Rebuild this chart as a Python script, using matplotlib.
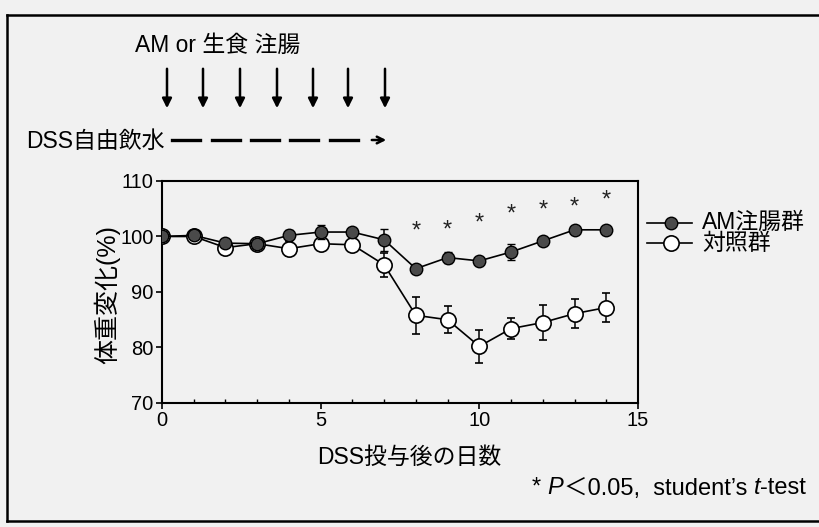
import matplotlib
matplotlib.use("Agg")
import matplotlib.pyplot as plt
from matplotlib.lines import Line2D
from matplotlib.ticker import MultipleLocator
from matplotlib.offsetbox import TextArea, HPacker, AnchoredOffsetbox
import numpy as np

plt.rcParams['font.family'] = ['Liberation Sans', 'Noto Sans CJK JP', 'DejaVu Sans']

# data
days = np.arange(0, 15)
am_mean = [100.0, 100.2, 98.8, 98.7, 100.2, 100.8, 100.8, 99.4, 94.2, 96.2, 95.6, 97.2, 99.2, 101.2, 101.2]
am_err = [0.3, 0.5, 0.5, 0.4, 0.9, 1.2, 0.6, 2.0, 0.6, 1.0, 0.5, 1.4, 0.7, 0.5, 0.4]
ctl_mean = [100.0, 100.0, 98.0, 98.7, 97.8, 98.7, 98.5, 94.9, 85.8, 85.0, 80.2, 83.4, 84.5, 86.1, 87.2]
ctl_err = [0.3, 0.4, 0.5, 0.3, 1.3, 1.0, 0.6, 2.2, 3.3, 2.4, 3.0, 1.9, 3.1, 2.6, 2.6]
star_days = [8, 9, 10, 11, 12, 13, 14]
star_y = [100.9, 101.0, 102.4, 103.9, 104.6, 105.2, 106.4]

lbl_am = "AM注腸群"
lbl_ctl = "対照群"

bg = '#f1f1f1'
fig = plt.figure(figsize=(8.19, 5.27), dpi=100)
fig.patch.set_facecolor(bg)
ax = fig.add_axes([0.1978, 0.2353, 0.5812, 0.4213])
ax.set_facecolor(bg)

am_style = dict(marker='o', ms=9, mfc='#4a4a4a', mec='black', mew=1.0)
ctl_style = dict(marker='o', ms=11, mfc='white', mec='black', mew=1.2)

ax.errorbar(days, ctl_mean, yerr=ctl_err, color='black', lw=1.2, capsize=3,
            elinewidth=1.1, zorder=3, **ctl_style)
ax.errorbar(days, am_mean, yerr=am_err, color='black', lw=1.2, capsize=3,
            elinewidth=1.1, zorder=4, **am_style)

for d, y in zip(star_days, star_y):
    ax.text(d, y, "*", ha='center', va='center', fontsize=17, color='#222222')

ax.set_xlim(0, 15)
ax.set_ylim(70, 110)
ax.set_xticks([0, 5, 10, 15])
ax.xaxis.set_minor_locator(MultipleLocator(1))
ax.set_yticks([70, 80, 90, 100, 110])
ax.tick_params(axis='both', which='major', labelsize=14.5, length=4, width=1.2,
               direction='out', pad=2)
ax.tick_params(axis='x', which='minor', length=3, width=1, direction='in')
for s in ax.spines.values():
    s.set_linewidth(1.5)

ax.set_xlabel("DSS投与後の日数", fontsize=16.5)
ax.xaxis.set_label_coords(0.52, -0.195)
ax.set_ylabel("体重変化(%)", fontsize=18)
ax.yaxis.set_label_coords(-0.088, 0.49)

# legend drawn by hand so the rows sit close together
for st, ypx in [(am_style, 223), (ctl_style, 243)]:
    yf = 1 - ypx / 527
    fig.add_artist(Line2D([647 / 819, 692 / 819], [yf, yf], transform=fig.transFigure,
                          color='black', lw=1.2))
    fig.add_artist(Line2D([671 / 819], [yf], transform=fig.transFigure, color='black', **st))
fig.text(702 / 819, 1 - 233 / 527, lbl_am + "\n" + lbl_ctl, fontsize=16.5,
         va='center', ha='left', linespacing=0.93)

# protocol header
fig.text(0.165, 1 - 45 / 527, "AM or 生食 注腸", fontsize=16.5, va='center', ha='left')
arrow_x = [167, 203, 240, 277, 313, 348, 385]
for x in arrow_x:
    fig.add_artist(matplotlib.patches.FancyArrowPatch(
        (x / 819, 1 - 66 / 527), (x / 819, 1 - 111 / 527), transform=fig.transFigure,
        arrowstyle='-|>', color='black', lw=1.8, mutation_scale=14))
fig.text(0.032, 1 - 141 / 527, "DSS自由飲水", fontsize=16.5, va='center', ha='left')
dash_seg = [(172, 200), (212, 240), (251, 279), (290, 318), (330, 358)]
for x0, x1 in dash_seg:
    fig.add_artist(Line2D([x0 / 819, x1 / 819], [1 - 140 / 527, 1 - 140 / 527],
                          transform=fig.transFigure, color='black', lw=2.4))
fig.add_artist(matplotlib.patches.FancyArrowPatch(
    (369 / 819, 1 - 140 / 527), (389 / 819, 1 - 140 / 527), transform=fig.transFigure,
    arrowstyle='->', color='black', lw=1.8, mutation_scale=12))

# footnote with italic P and t
parts = [("* ", 'normal'), ("P", 'italic'), ("＜0.05,  student’s ", 'normal'),
         ("t", 'italic'), ("-test", 'normal')]
boxes = [TextArea(s, textprops=dict(fontsize=17, fontstyle=st)) for s, st in parts]
pack = HPacker(children=boxes, pad=0, sep=0, align='baseline')
anc = AnchoredOffsetbox(loc='center right', child=pack, frameon=False, pad=0, borderpad=0,
                        bbox_to_anchor=(806 / 819, 1 - 488 / 527),
                        bbox_transform=fig.transFigure)
fig.add_artist(anc)

# outer frame
fy0, fy1, fx0 = 1 - 521 / 527, 1 - 15 / 527, 7 / 819
for xs, ys in [([fx0, fx0], [fy0, fy1]), ([fx0, 1.0], [fy1, fy1]), ([fx0, 1.0], [fy0, fy0])]:
    fig.add_artist(Line2D(xs, ys, transform=fig.transFigure, color='black', lw=1.8))

fig.savefig("out.png", dpi=100, facecolor=bg)
